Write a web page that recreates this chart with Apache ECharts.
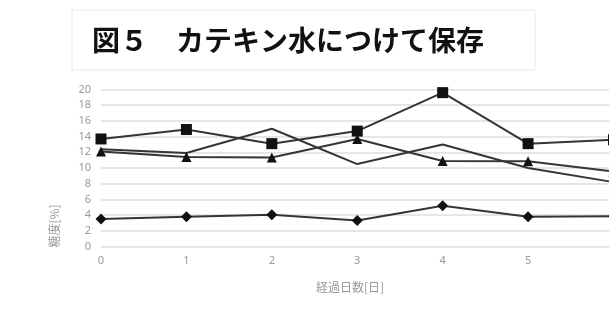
<!DOCTYPE html>
<html>
<head>
<meta charset="utf-8">
<script src="https://cdn.jsdelivr.net/npm/echarts@6/dist/echarts.min.js"></script>
<style>
html,body{margin:0;padding:0;background:#fff;overflow:hidden;width:609px;height:325px;}
#chart{width:700px;height:325px;}
</style>
</head>
<body>
<div id="chart"></div>
<script>
var titleText = '図５　カテキン水につけて保存';
var xName = '経過日数[日]';
var yName = '糖度[%]';
var days = [0, 1, 2, 3, 4, 5, 6];
var xTickLabels = ['0', '1', '2', '3', '4', '5'];
var squareSeries = [13.7, 14.9, 13.1, 14.7, 19.6, 13.1, 13.6];
var triangleSeries = [12.1, 11.4, 11.35, 13.7, 10.9, 10.85, 9.55];
var plainSeries = [12.4, 11.9, 15.0, 10.5, 13.0, 10.0, 8.2];
var diamondSeries = [3.5, 3.8, 4.05, 3.3, 5.2, 3.8, 3.85];

function pairs(vals) { return days.map(function (d, i) { return [d, vals[i]]; }); }

var lineColor = '#353535';
function mk(name, vals, symbol, size) {
  return {
    name: name, type: 'line', data: pairs(vals),
    symbol: symbol, symbolSize: size, showSymbol: true, clip: false,
    lineStyle: { color: lineColor, width: 2 },
    itemStyle: { color: '#111', borderColor: '#111', borderWidth: 0 },
    animation: false
  };
}

var chart = echarts.init(document.getElementById('chart'));
chart.setOption({
  animation: false,
  backgroundColor: '#fff',
  grid: { left: 101, right: 86.5, top: 89.5, bottom: 78.5 },
  xAxis: {
    type: 'value', min: 0, max: 6, interval: 1,
    axisLine: { show: false }, axisTick: { show: false },
    splitLine: { show: false },
    axisLabel: { color: '#999', fontSize: 11, margin: 9, fontFamily: 'Noto Sans',
      formatter: function (v) { return xTickLabels[v] !== undefined ? xTickLabels[v] : ''; } }
  },
  yAxis: {
    type: 'value', min: 0, max: 20, interval: 2,
    axisLine: { show: false }, axisTick: { show: false },
    splitLine: { show: true, lineStyle: { color: '#dedede', width: 1.5 } },
    axisLabel: { color: '#999', fontSize: 11, margin: 10, fontFamily: 'Noto Sans' }
  },
  graphic: [
    { type: 'rect', shape: { x: 72, y: 10, width: 463, height: 60 },
      style: { fill: '#fff', stroke: '#e8e8e8', lineWidth: 1 }, z: 0 },
    { type: 'text', x: 92, y: 40, z: 10,
      style: { text: titleText, fill: '#111', font: 'bold 28px "Noto Sans CJK JP"', verticalAlign: 'middle', textAlign: 'left' } },
    { type: 'text', x: 350, y: 287, z: 10,
      style: { text: xName, fill: '#999', font: '12px "Noto Sans CJK JP"', verticalAlign: 'middle', textAlign: 'center' } },
    { type: 'text', x: 54, y: 226, rotation: Math.PI / 2, z: 10,
      style: { text: yName, fill: '#999', font: '12px "Noto Sans CJK JP"', verticalAlign: 'middle', textAlign: 'center' } }
  ],
  series: [
    mk('plain', plainSeries, 'none', 4),
    mk('triangle', triangleSeries, 'triangle', 10),
    mk('square', squareSeries, 'rect', 11),
    mk('diamond', diamondSeries, 'diamond', 11)
  ]
});
</script>
</body>
</html>
